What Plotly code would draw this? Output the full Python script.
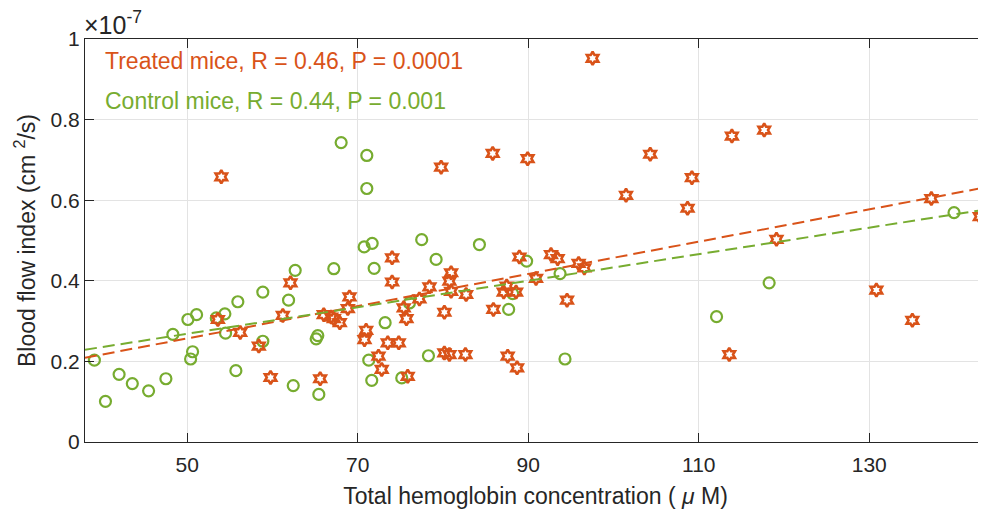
import plotly.graph_objects as go

# control mice (open circles)
control_hb = [39.1, 40.4, 42.0, 43.55, 45.46, 47.49, 48.31, 50.07, 51.09, 50.39, 50.62,
              53.40, 54.41, 54.49, 55.93, 58.86, 58.86, 55.70, 62.66, 61.88, 67.19, 65.31,
              65.12, 62.43, 65.43, 70.75, 71.69, 71.92, 77.50, 79.19, 73.21, 76.06, 71.29,
              71.64, 75.16, 78.29, 68.05, 71.06, 71.06, 84.27, 89.81, 93.73, 88.17, 87.70,
              94.31, 112.09, 118.26, 139.95]
control_bfi = [0.203, 0.101, 0.168, 0.145, 0.127, 0.157, 0.267, 0.304, 0.316, 0.206, 0.224,
               0.308, 0.318, 0.270, 0.348, 0.372, 0.250, 0.177, 0.426, 0.352, 0.430, 0.264,
               0.256, 0.140, 0.118, 0.484, 0.493, 0.431, 0.502, 0.453, 0.296, 0.345, 0.203,
               0.153, 0.159, 0.214, 0.743, 0.711, 0.629, 0.490, 0.449, 0.418, 0.368, 0.329,
               0.206, 0.311, 0.395, 0.569]

# treated mice (hexagrams)
treated_hb = [53.59, 56.21, 58.39, 59.77, 61.21, 62.11, 65.59, 66.01, 66.88, 67.19, 67.89,
              69.03, 68.83, 70.98, 70.79, 74.03, 74.03, 72.43, 72.81, 75.86, 73.52, 74.81,
              75.39, 75.71, 78.41, 77.23, 80.16, 80.16, 80.75, 82.63, 79.78, 53.99, 80.95,
              80.75, 80.95, 82.71, 85.91, 87.47, 87.12, 88.57, 88.96, 92.67, 93.45, 90.91,
              95.91, 96.58, 94.55, 87.59, 88.69, 85.83, 89.93, 101.47, 97.55, 104.31, 109.20,
              108.69, 113.89, 117.68, 119.12, 137.29, 142.97, 113.58, 130.84, 135.06]
treated_bfi = [0.304, 0.272, 0.238, 0.160, 0.314, 0.395, 0.157, 0.316, 0.310, 0.306, 0.296,
               0.360, 0.331, 0.277, 0.254, 0.457, 0.397, 0.213, 0.180, 0.163, 0.246, 0.246,
               0.333, 0.306, 0.385, 0.355, 0.322, 0.221, 0.217, 0.217, 0.682, 0.658, 0.420,
               0.399, 0.374, 0.366, 0.329, 0.387, 0.372, 0.372, 0.459, 0.465, 0.455, 0.406,
               0.443, 0.432, 0.352, 0.213, 0.184, 0.716, 0.703, 0.612, 0.952, 0.714, 0.656,
               0.580, 0.759, 0.774, 0.503, 0.604, 0.559, 0.217, 0.377, 0.302]

# linear fits (end points)
fit_hb = [38.0, 143.7]
treated_fit = [0.209, 0.632]
control_fit = [0.229, 0.577]

orange = '#D95319'
green = '#77AC30'
axis_col = '#262626'
font = 'Liberation Sans, Arial, sans-serif'

fig = go.Figure()
fig.add_trace(go.Scatter(x=control_hb, y=control_bfi, mode='markers',
                         marker=dict(symbol='circle-open', size=11, color=green,
                                     line=dict(width=2.2, color=green))))
fig.add_trace(go.Scatter(x=treated_hb, y=treated_bfi, mode='markers',
                         marker=dict(symbol='hexagram-open', size=10, color=orange,
                                     line=dict(width=2.6, color=orange))))
fig.add_trace(go.Scatter(x=fit_hb, y=treated_fit, mode='lines',
                         line=dict(color=orange, width=2, dash='12px,6px')))
fig.add_trace(go.Scatter(x=fit_hb, y=control_fit, mode='lines',
                         line=dict(color=green, width=2, dash='12px,6px')))

fig.add_annotation(x=0.02, y=0.945, xref='paper', yref='paper', xanchor='left', yanchor='middle',
                   text='Treated mice, R = 0.46, P = 0.0001', showarrow=False,
                   font=dict(size=23, color=orange, family=font))
fig.add_annotation(x=0.02, y=0.846, xref='paper', yref='paper', xanchor='left', yanchor='middle',
                   text='Control mice, R = 0.44, P = 0.001', showarrow=False,
                   font=dict(size=23, color=green, family=font))
fig.add_annotation(x=0.0, y=1.0, xref='paper', yref='paper', xanchor='left', yanchor='bottom',
                   text='×10<sup>-7</sup>', showarrow=False, xshift=-3, yshift=-2,
                   font=dict(size=25, color=axis_col, family=font))

# page body has an 8px margin, so the figure is sized to fit the 986x510 window
fig.update_layout(
    width=978, height=502,
    margin=dict(l=77, r=0, t=31, b=68),
    plot_bgcolor='white', paper_bgcolor='white',
    showlegend=False,
    font=dict(family=font, size=21, color=axis_col),
    xaxis=dict(range=[38.0, 143.7], tickvals=[50, 70, 90, 110, 130], automargin=False,
               showgrid=True, gridcolor='#e3e3e3', gridwidth=1, zeroline=False,
               showline=True, linecolor=axis_col, linewidth=1, mirror='ticks',
               ticks='inside', ticklen=9, tickcolor=axis_col, ticklabelstandoff=4,
               title=dict(text='Total hemoglobin concentration ( <i>μ</i> M)',
                          font=dict(size=23), standoff=12)),
    yaxis=dict(range=[0, 1], tickvals=[0, 0.2, 0.4, 0.6, 0.8, 1], automargin=False,
               ticktext=['0', '0.2', '0.4', '0.6', '0.8', '1'],
               showgrid=True, gridcolor='#e3e3e3', gridwidth=1, zeroline=False,
               showline=True, linecolor=axis_col, linewidth=1,
               ticks='inside', ticklen=9, tickcolor=axis_col,
               title=dict(text='Blood flow index (cm <sup>2</sup>/s)',
                          font=dict(size=23), standoff=8)),
)

fig.write_html('out.html')
